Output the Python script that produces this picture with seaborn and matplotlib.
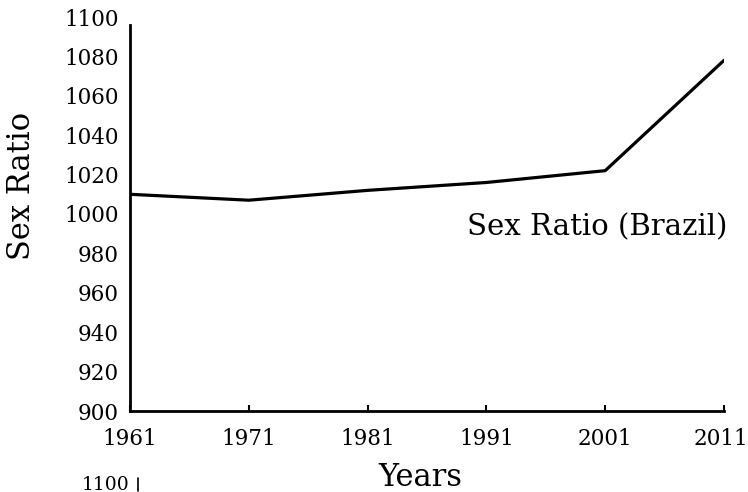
import matplotlib
matplotlib.use("Agg")
import matplotlib.pyplot as plt
import matplotlib.transforms as mtrans
from matplotlib.lines import Line2D
import seaborn as sns
import pandas as pd

years = [1961, 1971, 1981, 1991, 2001, 2011]
sex_ratio = [1010, 1007, 1012, 1016, 1022, 1078]
y_ticks = [900, 920, 940, 960, 980, 1000, 1020, 1040, 1060, 1080, 1100]

sns.set_theme(style="white")
plt.rcParams['font.family'] = ['DejaVu Serif']

df = pd.DataFrame({"Years": years, "Sex Ratio": sex_ratio})

W, H = 748, 492
fig = plt.figure(figsize=(W/100, H/100), dpi=100)
ax = fig.add_axes([130/W, (H-411)/H, (724-130)/W, (411-17)/H])
sns.lineplot(data=df, x="Years", y="Sex Ratio", ax=ax, color="black", linewidth=2.3)

ax.set_xlim(1961, 2011)
ax.set_ylim(900, 1100)
ax.set_xticks(years)
ax.set_yticks(y_ticks)
ax.tick_params(axis='y', labelsize=15.5, colors='black', length=0, pad=8)
ax.tick_params(axis='x', labelsize=15.5, colors='black', direction='in', bottom=True,
               length=4, width=1.5, pad=12)
for s in ['top', 'right']:
    ax.spines[s].set_visible(False)
for s in ['left', 'bottom']:
    ax.spines[s].set_color('black')
    ax.spines[s].set_linewidth(2)
ax.spines['left'].set_bounds(900, 1096)

# nudge the last x label so it stays inside the figure
last = ax.get_xticklabels()[-1]
last.set_transform(last.get_transform() + mtrans.ScaledTranslation(-3/100, 0, fig.dpi_scale_trans))

ax.set_xlabel("")
ax.set_ylabel("")
fig.text(420/W, 1 - 478/H, "Years", fontsize=22, color='black', ha='center', va='center')
fig.text(22/W, 1 - 186/H, "Sex Ratio", fontsize=22, color='black', ha='center', va='center',
         rotation=90)

ax.text(1989.4, 993, "Sex Ratio (Brazil)", fontsize=21, color='black', ha='left', va='center')

fig.text(82/W, 1 - 476/H, "1100", fontsize=13.5, color='black', ha='left', va='top')
fig.add_artist(Line2D([138/W, 138/W], [1 - 478/H, 1 - 491/H], color='black', linewidth=1.2))

fig.savefig("out.png", dpi=100)
